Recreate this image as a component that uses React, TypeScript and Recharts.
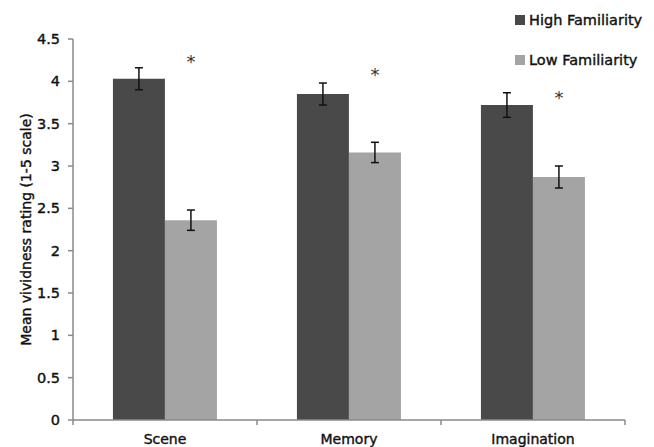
import { Bar, BarChart, ErrorBar, LabelList, Legend, XAxis, YAxis } from "recharts";

const categories = ["Scene", "Memory", "Imagination"];
const highValues = [4.03, 3.85, 3.72];
const lowValues = [2.36, 3.16, 2.87];
const highErrors = [0.13, 0.13, 0.145];
const lowErrors = [0.12, 0.12, 0.13];
const starLevels = [4.27, 4.12, 3.85];
const yTicks = [0, 0.5, 1, 1.5, 2, 2.5, 3, 3.5, 4, 4.5];

const SERIES = [
  { key: "high", name: "High Familiarity", color: "#494949" },
  { key: "low", name: "Low Familiarity", color: "#a4a4a4" }
];

const FONT = "'DejaVu Sans', sans-serif";
const AXIS = "#8a8a8a";
const INK = "#111";
// the source text is heavier than DejaVu regular, a thin outline makes up for it
const HEAVY = { stroke: INK, strokeWidth: 0.4 };

const rows = categories.map((name, i) => ({
  name,
  high: highValues[i],
  low: lowValues[i],
  highErr: highErrors[i],
  lowErr: lowErrors[i],
  star: starLevels[i]
}));

function CategoryTick(props: any) {
  const { x, y, width, payload, index, visibleTicksCount } = props;
  const band = width / visibleTicksCount;
  const axisY = y - 8;
  return (
    <g>
      <line x1={x - band / 2} y1={axisY} x2={x - band / 2} y2={axisY + 5} stroke={AXIS} strokeWidth={1.5} />
      {index === visibleTicksCount - 1 && (
        <line x1={x + band / 2} y1={axisY} x2={x + band / 2} y2={axisY + 5} stroke={AXIS} strokeWidth={1.5} />
      )}
      <text x={x} y={y + 15.5} textAnchor="middle" fontSize={14} fontFamily={FONT} fill={INK} {...HEAVY}>
        {payload.value}
      </text>
    </g>
  );
}

function Star(props: any) {
  const { x, y, width, height, value, index } = props;
  const perUnit = height / lowValues[index];
  const starY = y + height - value * perUnit;
  return (
    <text x={x + width / 2} y={starY + 10} textAnchor="middle" fontSize={18} fontFamily={FONT} fill="#333">
      *
    </text>
  );
}

function LegendBox() {
  return (
    <div style={{ fontFamily: FONT, fontSize: 14.5, color: INK, WebkitTextStroke: "0.4px #111" }}>
      {SERIES.map((s) => (
        <div key={s.key} style={{ display: "flex", alignItems: "center", height: 40 }}>
          <span style={{ width: 10, height: 10, background: s.color, marginRight: 4 }} />
          <span>{s.name}</span>
        </div>
      ))}
    </div>
  );
}

export default function App() {
  return (
    <div style={{ position: "absolute", left: 0, top: 0, background: "#fff" }}>
      <BarChart
        width={654}
        height={447}
        data={rows}
        margin={{ top: 39, right: 29, left: 0, bottom: 0 }}
        barCategoryGap="21.7%"
        barGap={0}
      >
        <XAxis
          dataKey="name"
          height={27}
          axisLine={{ stroke: AXIS, strokeWidth: 1.5 }}
          tickLine={false}
          tickSize={5}
          tickMargin={3}
          tick={<CategoryTick />}
          interval={0}
        />
        <YAxis
          width={73}
          domain={[0, 4.5]}
          ticks={yTicks}
          interval={0}
          axisLine={{ stroke: AXIS, strokeWidth: 1.5 }}
          tickLine={{ stroke: AXIS, strokeWidth: 1.5 }}
          tickSize={5}
          tickMargin={8}
          tick={{ fontSize: 14.5, fontFamily: FONT, fill: INK, ...HEAVY }}
          label={({ viewBox }: any) => (
            <text
              x={26}
              y={viewBox.y + viewBox.height / 2}
              transform={`rotate(-90, 26, ${viewBox.y + viewBox.height / 2})`}
              textAnchor="middle"
              dominantBaseline="central"
              fontSize={14}
              fontFamily={FONT}
              fill={INK}
              {...HEAVY}
            >
              Mean vividness rating (1-5 scale)
            </text>
          )}
        />
        <Legend
          layout="horizontal"
          align="center"
          verticalAlign="middle"
          wrapperStyle={{ top: 0, left: 515, width: 139 }}
          content={<LegendBox />}
        />
        <Bar dataKey="high" name={SERIES[0].name} fill={SERIES[0].color} isAnimationActive={false}>
          <ErrorBar dataKey="highErr" width={4} stroke="#111" strokeWidth={1.5} direction="y" />
        </Bar>
        <Bar dataKey="low" name={SERIES[1].name} fill={SERIES[1].color} isAnimationActive={false}>
          <ErrorBar dataKey="lowErr" width={4} stroke="#111" strokeWidth={1.5} direction="y" />
          <LabelList dataKey="star" content={<Star />} />
        </Bar>
      </BarChart>
    </div>
  );
}
